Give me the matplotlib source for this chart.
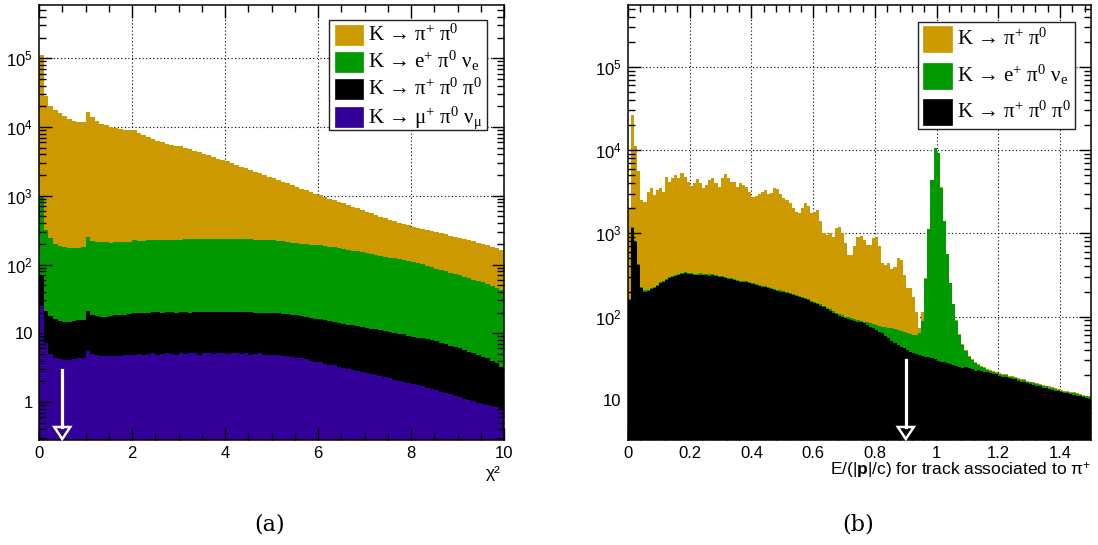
import numpy as np
import matplotlib
matplotlib.use("Agg")
import matplotlib.pyplot as plt
from matplotlib.patches import Rectangle, Polygon
from matplotlib.lines import Line2D
from matplotlib.ticker import FixedLocator, NullFormatter, FuncFormatter, MultipleLocator
from matplotlib.transforms import IdentityTransform

plt.rcParams['mathtext.fontset'] = 'custom'
plt.rcParams['mathtext.rm'] = 'Liberation Serif'
plt.rcParams['mathtext.it'] = 'Liberation Serif:italic'
plt.rcParams['mathtext.bf'] = 'Liberation Sans:bold'
plt.rcParams['mathtext.sf'] = 'Liberation Sans'

# ---------------- data: panel (a), chi2 in 100 bins over [0, 10] ----------------
chi2_range = (0.0, 10.0)
kmu_a = [25, 7.1, 5.0, 4.4, 4.2, 4.1, 4.1, 4.2, 4.3, 4.4,
         5.5, 5.0, 4.8, 4.7, 4.7, 4.6, 4.7, 4.7, 4.8, 4.8,
         4.9, 5.0, 4.8, 5.0, 5.1, 4.9, 5.0, 5.2, 5.0, 4.9,
         5.1, 5.0, 5.2, 5.1, 4.9, 5.1, 5.2, 5.0, 5.1, 5.2,
         5.0, 5.1, 5.2, 5.0, 5.1, 4.9, 5.0, 5.1, 4.9, 4.9,
         4.8, 4.8, 4.7, 4.6, 4.5, 4.4, 4.3, 4.2, 4.0, 3.8,
         3.8, 3.6, 3.5, 3.4, 3.2, 3.1, 3.0, 2.9, 2.8, 2.7,
         2.6, 2.55, 2.45, 2.4, 2.3, 2.2, 2.1, 2.05, 1.95, 1.9,
         1.85, 1.75, 1.72, 1.62, 1.55, 1.5, 1.42, 1.37, 1.3, 1.22,
         1.17, 1.12, 1.06, 1.02, 0.97, 0.93, 0.9, 0.87, 0.84, 0.8]
k3pi_a = [46, 14, 12.8, 11.8, 10.9, 10.7, 10.7, 10.9, 11.2, 11.4,
          15.5, 13.6, 13.0, 12.7, 12.7, 13.2, 13.5, 13.9, 13.8, 14.3,
          14.6, 14.8, 15.2, 14.6, 15.0, 15.3, 14.7, 15.1, 15.4, 14.9,
          15.2, 15.5, 14.8, 15.3, 15.6, 15.0, 15.2, 15.7, 15.1, 15.0,
          15.4, 15.6, 15.0, 15.3, 15.1, 15.4, 15.0, 14.8, 15.1, 14.9,
          14.8, 14.8, 14.6, 14.4, 14.1, 13.8, 13.4, 13.1, 12.7, 12.4,
          12.1, 11.8, 11.5, 11.3, 11.0, 10.7, 10.4, 10.1, 9.9, 9.6,
          9.4, 9.15, 8.95, 8.75, 8.5, 8.3, 8.1, 7.85, 7.65, 7.3,
          7.05, 6.85, 6.7, 6.5, 6.35, 6.1, 5.9, 5.65, 5.3, 5.1,
          4.85, 4.6, 4.35, 4.1, 3.9, 3.65, 3.4, 3.1, 2.8, 2.4]
ke3_a = [930, 295, 222, 184, 171, 163, 161, 159, 158, 162,
         230, 200, 196, 192, 192, 191, 191, 193, 195, 195,
         204, 201, 201, 204, 204, 206, 206, 209, 209, 209,
         209, 211, 212, 212, 214, 214, 214, 213, 214, 214,
         214, 213, 214, 214, 212, 212, 209, 209, 209, 206,
         204, 201, 200, 195, 190, 186, 182, 180, 178, 177,
         175, 171, 167, 163, 160, 156, 151, 145, 142, 138,
         133, 129, 127, 122, 118, 115, 113, 109, 105, 103,
         101, 96, 92, 87, 83, 79.5, 76, 72.4, 69.3, 66.1,
         63.2, 60.4, 57.7, 55.2, 52.6, 50.4, 48.2, 45, 42.1, 39.5]
k2pi_a = [111000, 27900, 19700, 17200, 15660, 14270, 13000, 12130, 11580, 11570,
          16350, 13580, 12090, 11010, 10510, 9790, 9340, 9120, 8910, 8700,
          8900, 8100, 7540, 7020, 6540, 6080, 5800, 5520, 5270, 5140,
          5020, 4780, 4560, 4290, 4040, 3840, 3660, 3440, 3230, 3080,
          2930, 2750, 2590, 2430, 2280, 2140, 2010, 1880, 1770, 1660,
          1560, 1460, 1370, 1300, 1220, 1150, 1070, 1000, 940, 880,
          830, 780, 730, 683, 639, 606, 569, 534, 498, 467,
          444, 415, 387, 362, 339, 321, 304, 288, 274, 260,
          245, 238, 231, 220, 214, 208, 202, 196, 187, 182,
          176, 168, 161, 156, 149, 145, 138, 131, 126, 119]

# ---------------- data: panel (b), E/p in 150 bins over [0, 1.5] ----------------
eop_range = (0.0, 1.5)
k3pi_b = [158, 1150, 794, 417, 219, 200, 204, 214, 219, 234,
          251, 263, 275, 288, 302, 309, 316, 324, 331, 324,
          324, 318, 312, 320, 314, 316, 311, 315, 309, 302,
          295, 288, 282, 282, 275, 269, 263, 263, 257, 251,
          245, 240, 234, 229, 224, 219, 214, 209, 204, 200,
          195, 191, 186, 182, 178, 170, 166, 162, 158, 151,
          145, 141, 135, 129, 123, 117, 112, 107, 102, 100,
          95.5, 93.3, 91.2, 89.1, 87.1, 85.1, 83.2, 79.4, 75.9, 72.4,
          69.2, 66.1, 63.1, 58.9, 55.0, 51.3, 47.9, 45.7, 43.7, 41.7,
          39.8, 38.0, 36.3, 35.5, 34.7, 33.9, 33.1, 32.4, 31.6, 30.9,
          29.5, 28.8, 28.2, 27.5, 26.9, 26.3, 25.7, 25.1, 24.5, 24.9,
          24.0, 23.4, 22.5, 22.9, 22.4, 21.9, 21.6, 20.9, 20.4, 20.2,
          19.5, 19.1, 18.8, 18.2, 17.8, 17.6, 17.0, 16.6, 16.4, 15.8,
          15.5, 15.2, 14.8, 14.5, 14.1, 13.9, 13.5, 13.2, 12.9, 12.7,
          12.3, 12.0, 12.1, 11.7, 11.5, 11.3, 11.0, 10.8, 10.5, 10.2]
ke3_b = [5, 30, 25, 12, 6, 6, 6, 6, 7, 7,
         7, 8, 8, 8, 9, 9, 9, 9, 10, 10,
         10, 10, 10, 10, 10, 10, 10, 10, 9, 9,
         9, 9, 9, 9, 8, 8, 8, 8, 8, 8,
         7, 7, 7, 7, 7, 7, 6, 6, 6, 6,
         6, 6, 6, 6, 6, 5, 5, 5, 5, 5,
         5, 5, 5, 5, 5, 5, 5, 5, 5, 5,
         4.5, 4.4, 4.3, 4.2, 4.1, 4.0, 3.9, 5.7, 7.3, 8.9,
         10.2, 11.5, 12.8, 17, 19, 21, 23, 23.5, 24, 24.4,
         23.3, 23.7, 24, 24.8, 28.4, 55, 249, 1090, 4300, 10500,
         9300, 3520, 1385, 535, 224, 115, 63, 35, 21, 13.5,
         9, 6.8, 5.3, 3.4, 2.7, 2.1, 1.5, 1.3, 1.2, 1.1,
         1.0, 1.0, 0.9, 0.9, 0.9, 0.8, 0.8, 0.8, 0.8, 0.7,
         0.7, 0.7, 0.7, 0.7, 0.6, 0.6, 0.6, 0.6, 0.6, 0.6,
         0.5, 0.5, 0.5, 0.5, 0.5, 0.5, 0.5, 0.5, 0.5, 0.5]
k2pi_b = [1840, 25100, 10400, 5190, 2290, 2190, 2950, 3250, 2660, 3070,
          3290, 2890, 4510, 3870, 4260, 4690, 4250, 4920, 4450, 3840,
          3390, 3650, 4150, 3650, 3150, 3480, 4050, 4250, 3660, 3320,
          4270, 4830, 4280, 3880, 3890, 3350, 3710, 3530, 3370, 2900,
          2500, 2570, 2710, 2920, 3080, 2720, 2800, 3330, 3180, 2740,
          2430, 2310, 2100, 1810, 1600, 1560, 1830, 2120, 1980, 1620,
          1670, 1760, 1270, 867, 828, 879, 797, 1040, 1095, 897,
          659, 452, 454, 615, 800, 844, 745, 639, 641, 790,
          812, 630, 361, 341, 363, 300, 327, 432, 411, 250,
          156, 157, 114, 52, 10, 26, 12, 10, 8, 8,
          6, 5, 4, 3, 2.5, 2, 1.5, 1.2, 1.0, 0.9,
          0.8, 0.8, 0.7, 0.7, 0.7, 0.6, 0.6, 0.6, 0.6, 0.6,
          0.5, 0.5, 0.5, 0.5, 0.5, 0.5, 0.5, 0.5, 0.5, 0.5,
          0.4, 0.4, 0.4, 0.4, 0.4, 0.4, 0.4, 0.4, 0.4, 0.4,
          0.3, 0.3, 0.3, 0.3, 0.3, 0.3, 0.3, 0.3, 0.3, 0.3]

labels_a = ["K → π$^{+}$ π$^{0}$", "K → e$^{+}$ π$^{0}$ ν$_{\\mathrm{e}}$",
            "K → π$^{+}$ π$^{0}$ π$^{0}$", "K → μ$^{+}$ π$^{0}$ ν$_{\\mathrm{μ}}$"]
labels_b = labels_a[:3]
cut_a = 0.5
cut_b = 0.9

C_GOLD = "#cc9900"
C_GREEN = "#009900"
C_BLACK = "#000000"
C_PURPLE = "#330099"

W, H = 1098, 545
fig = plt.figure(figsize=(W / 100, H / 100), dpi=100)
axA = fig.add_axes([39 / W, 105 / H, 465 / W, 435 / H])
axB = fig.add_axes([628 / W, 105 / H, 463 / W, 435 / H])

TICKFONT = dict(family="Liberation Sans", size=12)


def yfmt(v, pos):
    if v <= 0:
        return ""
    k = int(round(np.log10(v)))
    if k == 0:
        return "1"
    if k == 1:
        return "10"
    return r"$\mathsf{10^{%d}}$" % k


def xfmt(v, pos):
    s = "%.1f" % v
    if s.endswith(".0"):
        s = s[:-2]
    return s


def draw_stack(ax, comps, colors, rng):
    n = len(comps[0])
    edges = np.linspace(rng[0], rng[1], n + 1)
    tops = np.cumsum(np.array(comps, dtype=float), axis=0)
    # draw from the total down, each filled to the floor (like THStack)
    for i in range(len(comps) - 1, -1, -1):
        ax.stairs(tops[i], edges, baseline=1e-3, fill=True, color=colors[i],
                  lw=0, zorder=1)


def style_axes(ax, xr, ylim, xmaj, xmin, ydecades):
    ax.set_yscale("log")
    ax.set_xlim(*xr)
    ax.set_ylim(*ylim)
    ax.xaxis.set_major_locator(MultipleLocator(xmaj))
    ax.xaxis.set_minor_locator(MultipleLocator(xmin))
    majors = [10.0 ** d for d in ydecades]
    minors = [m * 10.0 ** d for d in range(ydecades[0] - 1, ydecades[-1] + 1)
              for m in range(2, 10)
              if ylim[0] <= m * 10.0 ** d <= ylim[1]]
    ax.yaxis.set_major_locator(FixedLocator(majors))
    ax.yaxis.set_minor_locator(FixedLocator(minors))
    ax.yaxis.set_major_formatter(FuncFormatter(yfmt))
    ax.yaxis.set_minor_formatter(NullFormatter())
    ax.xaxis.set_major_formatter(FuncFormatter(xfmt))
    ax.tick_params(which="both", direction="in", top=True, right=True,
                   width=1.0, colors="black")
    ax.tick_params(which="major", length=9, pad=4.5)
    ax.tick_params(which="minor", length=5)
    for lab in ax.get_xticklabels() + ax.get_yticklabels():
        lab.set_fontfamily(TICKFONT["family"])
        lab.set_fontsize(TICKFONT["size"])
    for sp in ax.spines.values():
        sp.set_linewidth(1.1)
    ax.set_axisbelow(False)
    # dotted grid under the histograms
    x = xr[0] + xmaj
    while x < xr[1] - 1e-9:
        ax.axvline(x, color="black", lw=0.8, ls=(0, (1, 2.2)), zorder=0.5)
        x += xmaj
    for d in ydecades:
        ax.axhline(10.0 ** d, color="black", lw=0.8, ls=(0, (1, 2.2)), zorder=0.5)


def draw_arrow(ax, x, y_top, y_tip):
    p_top = ax.transData.transform((x, y_top))
    p_tip = ax.transData.transform((x, y_tip))
    hh, hw = 13, 8
    base = p_tip[1] + hh
    ln = Line2D([p_top[0], p_top[0]], [p_top[1], base], color="white", lw=2.3,
                transform=IdentityTransform(), clip_on=False, zorder=3)
    ax.add_artist(ln)
    tri = Polygon([[p_tip[0] - hw, base], [p_tip[0] + hw, base], [p_tip[0], p_tip[1] + 1]],
                  closed=True, fill=False, ec="white", lw=1.8,
                  transform=IdentityTransform(), clip_on=False, zorder=3)
    ax.add_artist(tri)


def draw_legend(box, sw_x, sw_h, centers, text_x, labels, colors):
    x0, y0, x1, y1 = box
    fig.add_artist(Rectangle((x0 / W, 1 - y1 / H), (x1 - x0) / W, (y1 - y0) / H,
                             transform=fig.transFigure, fc="white", ec="#222222",
                             lw=1.0, zorder=5))
    for c, lab, col in zip(centers, labels, colors):
        fig.add_artist(Rectangle((sw_x[0] / W, 1 - (c + sw_h / 2) / H),
                                 (sw_x[1] - sw_x[0]) / W, sw_h / H,
                                 transform=fig.transFigure, fc=col, ec=col,
                                 lw=0.5, zorder=6))
        fig.text(text_x / W, 1 - (c + 5.5) / H, lab, family="Liberation Serif",
                 size=15, ha="left", va="baseline", zorder=7)


# ---------------- panel (a) ----------------
draw_stack(axA, [kmu_a, k3pi_a, ke3_a, k2pi_a], [C_PURPLE, C_BLACK, C_GREEN, C_GOLD], chi2_range)
style_axes(axA, chi2_range, (10 ** -0.553, 10 ** 5.775), 2, 0.5, [0, 1, 2, 3, 4, 5])
axA.text(0.992, -0.078, "χ²", transform=axA.transAxes, ha="right", va="center",
         family="Liberation Sans", size=12.5)

# ---------------- panel (b) ----------------
draw_stack(axB, [k3pi_b, ke3_b, k2pi_b], [C_BLACK, C_GREEN, C_GOLD], eop_range)
style_axes(axB, eop_range, (10 ** 0.519, 10 ** 5.741), 0.2, 0.04, [1, 2, 3, 4, 5])
axB.text(1.0, -0.072, r"E/(|$\mathbf{p}$|/c) for track associated to π$^{\mathsf{+}}$",
         transform=axB.transAxes, ha="right", va="center",
         family="Liberation Sans", size=12.5)

draw_arrow(axA, cut_a, 10 ** 0.465, axA.get_ylim()[0])
draw_arrow(axB, cut_b, 10 ** 1.48, axB.get_ylim()[0])

draw_legend((329, 20, 487, 130), (335, 363), 20, [35, 62, 89, 117], 368,
            labels_a, [C_GOLD, C_GREEN, C_BLACK, C_PURPLE])
draw_legend((918, 22, 1075, 129), (923, 952), 26, [39.3, 76, 112], 957,
            labels_b, [C_GOLD, C_GREEN, C_BLACK])

fig.text(270 / W, 1 - 525 / H, "(a)", family="DejaVu Serif", size=16, ha="center", va="center")
fig.text(858 / W, 1 - 525 / H, "(b)", family="DejaVu Serif", size=16, ha="center", va="center")

fig.savefig("out.png", dpi=100)
